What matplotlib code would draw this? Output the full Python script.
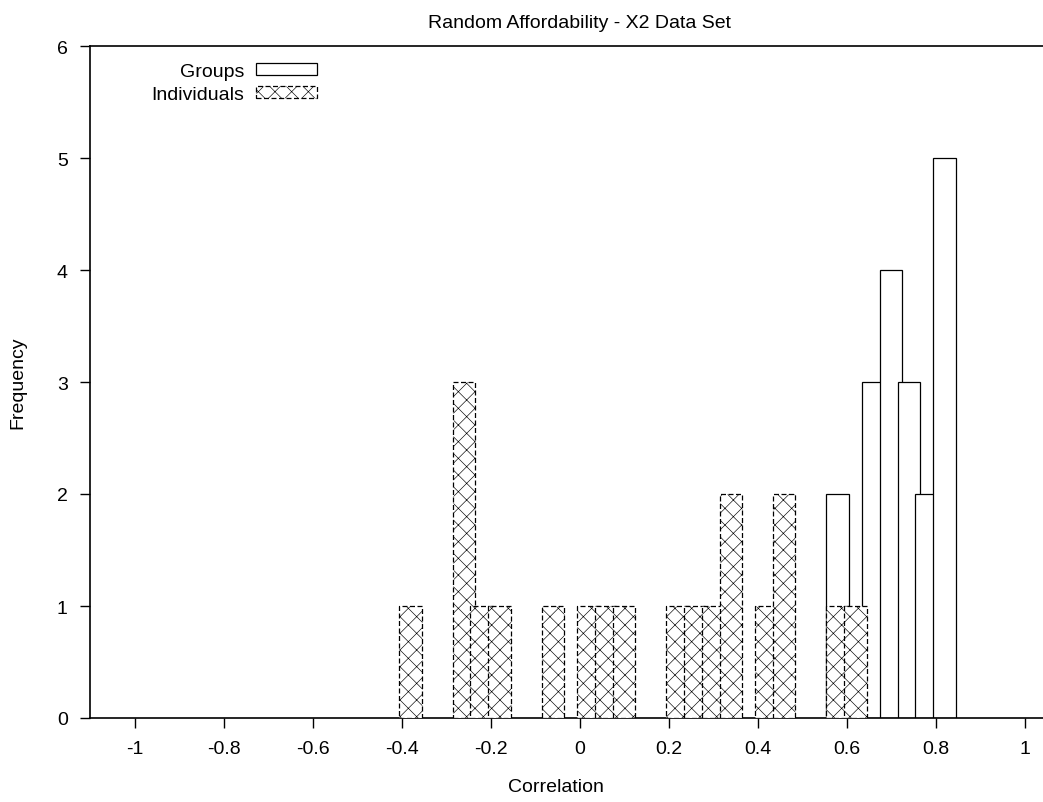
import numpy as np
import matplotlib.pyplot as plt
from matplotlib.patches import Patch

plt.rcParams['font.family'] = ['Liberation Sans', 'DejaVu Sans']
plt.rcParams['hatch.linewidth'] = 0.45

# bin centres (width 0.04) and counts
group_x = [0.58, 0.66, 0.70, 0.74, 0.78, 0.82]
group_n = [2, 3, 4, 3, 2, 5]

indiv_x = [-0.38, -0.26, -0.22, -0.18, -0.06, 0.02, 0.06, 0.10,
           0.22, 0.26, 0.30, 0.34, 0.42, 0.46, 0.58, 0.62]
indiv_n = [1, 3, 1, 1, 1, 1, 1, 1, 1, 1, 1, 2, 1, 2, 1, 1]

xticks = [-1, -0.8, -0.6, -0.4, -0.2, 0, 0.2, 0.4, 0.6, 0.8, 1]
xlabels = ['-1', '-0.8', '-0.6', '-0.4', '-0.2', '0', '0.2', '0.4', '0.6', '0.8', '1']

W, H = 1043, 803
fig = plt.figure(figsize=(W / 100, H / 100), dpi=100)
# plot area runs past the right edge of the image, as in the reference
ax = fig.add_axes([90 / W, 84 / H, 979 / W, 672 / H])

box_w = 0.05
dash = (0, (4, 2))
ax.bar(group_x, group_n, width=box_w, color='white', edgecolor='black',
       linewidth=0.9, zorder=2)
ax.bar(indiv_x, indiv_n, width=box_w, color='white', edgecolor='black',
       linewidth=0.9, linestyle=dash, hatch='xx', zorder=3)

ax.set_xlim(-1.1, 1.1)
ax.set_ylim(0, 6)
ax.set_xticks(xticks)
ax.set_xticklabels(xlabels)
ax.set_yticks(range(7))

ax.spines['right'].set_visible(False)
for s in ['left', 'bottom', 'top']:
    ax.spines[s].set_linewidth(1.2)
ax.tick_params(direction='out', length=7, width=1, pad=9, labelsize=14,
               top=False, right=False)

ax.set_title('Random Affordability - X2 Data Set', fontsize=14, pad=14)
fig.text(556 / W, 1 - 788 / H, 'Correlation', fontsize=14, ha='center', va='center')
fig.text(18 / W, 1 - 383 / H, 'Frequency', fontsize=14, ha='center', va='center',
         rotation=90)

handles = [
    Patch(facecolor='white', edgecolor='black', linewidth=0.9, label='Groups'),
    Patch(facecolor='white', edgecolor='black', linewidth=0.9,
          linestyle=dash, hatch='xx', label='Individuals'),
]
ax.legend(handles=handles, loc='upper left', bbox_to_anchor=(52 / 979, 1 - 7 / 672),
          frameon=False, markerfirst=False, fontsize=14, borderpad=0,
          handlelength=3.1, handleheight=0.55, handletextpad=0.6, labelspacing=0.3)

fig.savefig('out.png', dpi=100)
